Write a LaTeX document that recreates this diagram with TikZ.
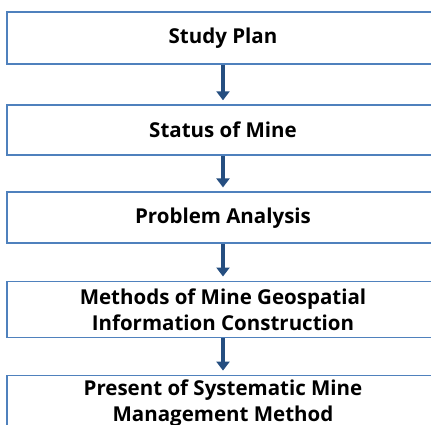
\documentclass[tikz,border=0pt]{standalone}
\usepackage{fontspec}
\setmainfont{Open Sans}
\usepackage{tikz}
\usetikzlibrary{arrows.meta,positioning}

\definecolor{boxblue}{HTML}{4F81BD}
\definecolor{arrowblue}{HTML}{254E80}

\begin{document}
\begin{tikzpicture}[
  x=1pt, y=1pt,
  node distance=36.5pt,
  stepbox/.style={rectangle, draw=boxblue, line width=1.6pt, fill=white,
    minimum width=432pt, minimum height=50pt, inner sep=2pt, align=center,
    font=\fontsize{20.5}{26}\selectfont\bfseries},
  arr/.style={-{Triangle[width=13pt,length=9pt]}, line width=3.5pt,
    draw=arrowblue, shorten >=4pt}
]
  \useasboundingbox (0,0) rectangle (431,-424);

  \node[stepbox, minimum height=52pt] (plan) at (223,-38) {Study Plan};
  \node[stepbox, below=39.5pt of plan] (status) {Status of Mine};
  \node[stepbox, below=35.5pt of status, minimum height=51pt] (problem) {Problem Analysis};
  \node[stepbox, below=of problem, minimum height=56pt] (methods)
    {Methods of Mine Geospatial\\Information Construction};
  \node[stepbox, below=of methods, minimum height=56pt] (present)
    {Present of Systematic Mine\\Management Method};

  \draw[arr] (plan) -- (status);
  \draw[arr] (status) -- (problem);
  \draw[arr] (problem) -- (methods);
  \draw[arr] (methods) -- (present);
\end{tikzpicture}
\end{document}
